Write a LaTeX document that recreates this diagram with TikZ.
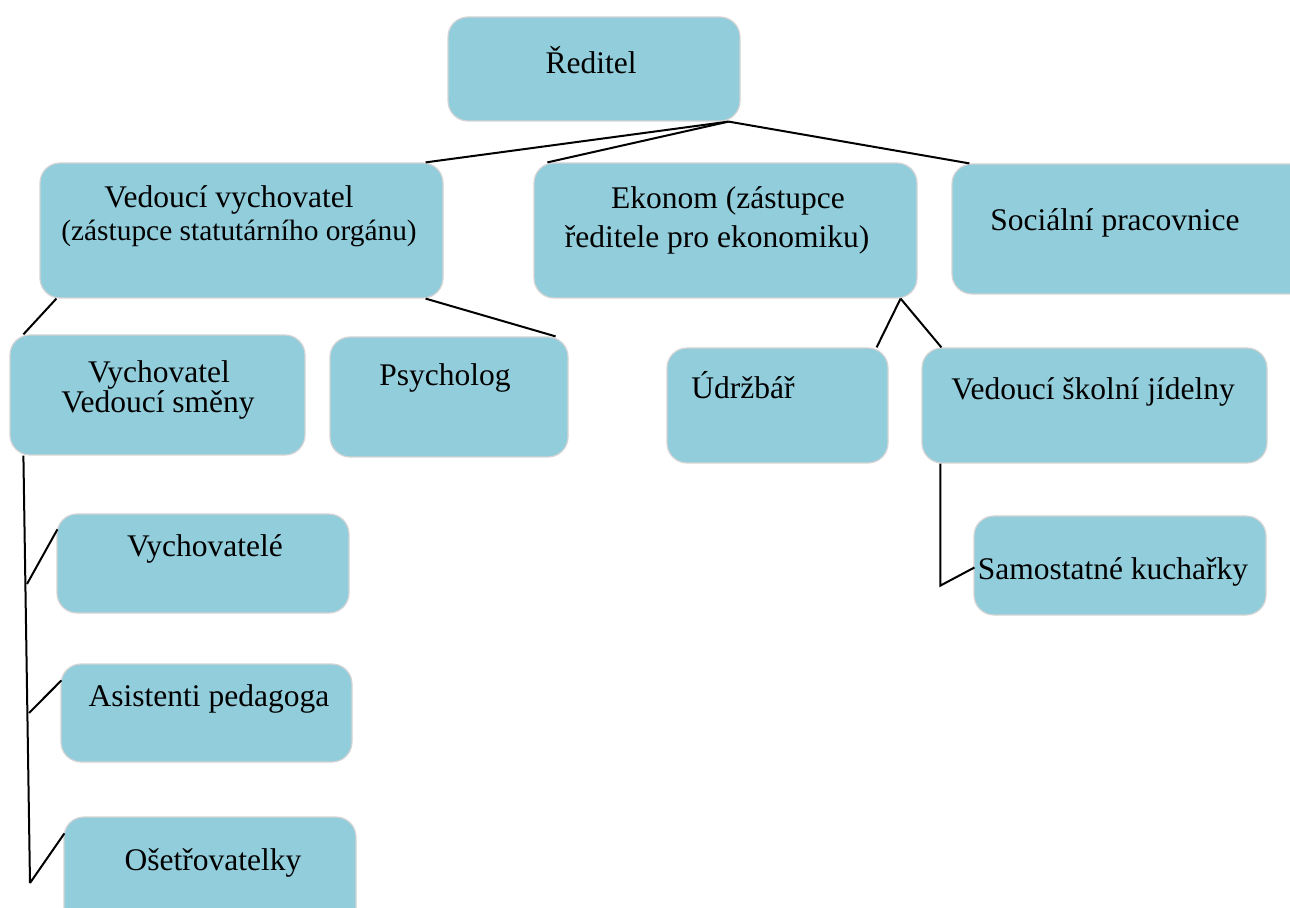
\documentclass[tikz,border=0pt]{standalone}
\usepackage{fontspec}
\setmainfont{Liberation Serif}
\usetikzlibrary{calc}
\definecolor{boxfill}{HTML}{92CDDC}
\definecolor{boxline}{HTML}{D4D4D4}
\tikzset{
  orgbox/.style={draw=boxline, line width=0.6pt, fill=boxfill, rounded corners=10pt},
  txt/.style={anchor=base, inner sep=0pt, font=\fontsize{15.75}{19}\selectfont},
  smalltxt/.style={anchor=base, inner sep=0pt, font=\fontsize{14.7}{18}\selectfont},
  conn/.style={draw=black, line width=1pt},
}
\newcommand{\orgnode}[5]{%
  \node[orgbox, minimum width={(#4-#2)*0.5pt}, minimum height={(#5-#3)*0.5pt}, inner sep=0pt]
    (#1) at ({(#2+#4)/2},{(#3+#5)/2}) {};}
\begin{document}
\begin{tikzpicture}[x=0.5pt,y=-0.5pt]
\useasboundingbox (0,0) rectangle (1290,908);
\clip (0,0) rectangle (1290,908);
% boxes
\orgnode{red}{448}{17}{740}{121}
\orgnode{vv}{40}{163}{443}{298}
\orgnode{ek}{534}{163}{917}{298}
\orgnode{soc}{952}{164}{1310}{294}
\orgnode{vy}{10}{335}{305}{455}
\orgnode{ps}{330}{337}{568}{457}
\orgnode{ud}{667}{348}{888}{463}
\orgnode{vsj}{922}{348}{1267}{463}
\orgnode{sk}{974}{516}{1266}{615}
\orgnode{vye}{57}{514}{349}{613}
\orgnode{ap}{61}{664}{352}{762}
\orgnode{os}{64}{817}{356}{930}
% texts
\node[txt] (t-red) at (591,74) {Ředitel};
\node[txt] (t-vv1) at (229,208) {Vedoucí vychovatel};
\node[smalltxt] (t-vv2) at (239,241) {(zástupce statutárního orgánu)};
\node[txt] (t-ek1) at (728,209) {Ekonom (zástupce};
\node[txt] (t-ek2) at (717,248) {ředitele pro ekonomiku)};
\node[txt] (t-soc) at (1115,231) {Sociální pracovnice};
\node[txt] (t-vy1) at (159,383) {Vychovatel};
\node[txt] (t-vy2) at (158,413) {Vedoucí směny};
\node[txt] (t-ps) at (445,386) {Psycholog};
\node[txt] (t-ud) at (743,399) {Údržbář};
\node[txt] (t-vsj) at (1093,400) {Vedoucí školní jídelny};
\node[txt] (t-sk) at (1113,580) {Samostatné kuchařky};
\node[txt] (t-vye) at (205,557) {Vychovatelé};
\node[txt] (t-ap) at (209,706) {Asistenti pedagoga};
\node[txt] (t-os) at (213,870) {Ošetřovatelky};
% helper coordinates
\coordinate (redhub) at ($(red.south east)+(-12,0)$);
\coordinate (vvhubL) at ($(vv.south west)+(17,0)$);
\coordinate (vvhubR) at ($(vv.south east)+(-18,0)$);
\coordinate (ekhub) at ($(ek.south east)+(-17,0)$);
\coordinate (vytop) at ($(vy.south west)+(14,0)$);
\coordinate (j1) at (27,584);
\coordinate (j2) at (29,713);
\coordinate (j3) at (30,883);
\coordinate (vsjtop) at ($(vsj.south west)+(19,0)$);
\coordinate (vsjbot) at ($(vsj.south west)+(19,122)$);
% connectors
\draw[conn] (redhub) -- ($(vv.north east)+(-18,0)$);
\draw[conn] (redhub) -- ($(ek.north west)+(14,0)$);
\draw[conn] (redhub) -- ($(soc.north west)+(18,0)$);
\draw[conn] (vvhubL) -- ($(vy.north west)+(14,0)$);
\draw[conn] (vvhubR) -- ($(ps.north east)+(-13,0)$);
\draw[conn] (ekhub) -- ($(ud.north east)+(-12,0)$);
\draw[conn] (ekhub) -- ($(vsj.north west)+(20,0)$);
\draw[conn] (vytop) -- (j3);
\draw[conn] (j1) -- ($(vye.north west)+(1,16)$);
\draw[conn] (j2) -- ($(ap.north west)+(1,17)$);
\draw[conn] (j3) -- ($(os.north west)+(1,17)$);
\draw[conn] (vsjtop) -- (vsjbot) -- ($(sk.west)+(1,2)$);
\end{tikzpicture}
\end{document}
